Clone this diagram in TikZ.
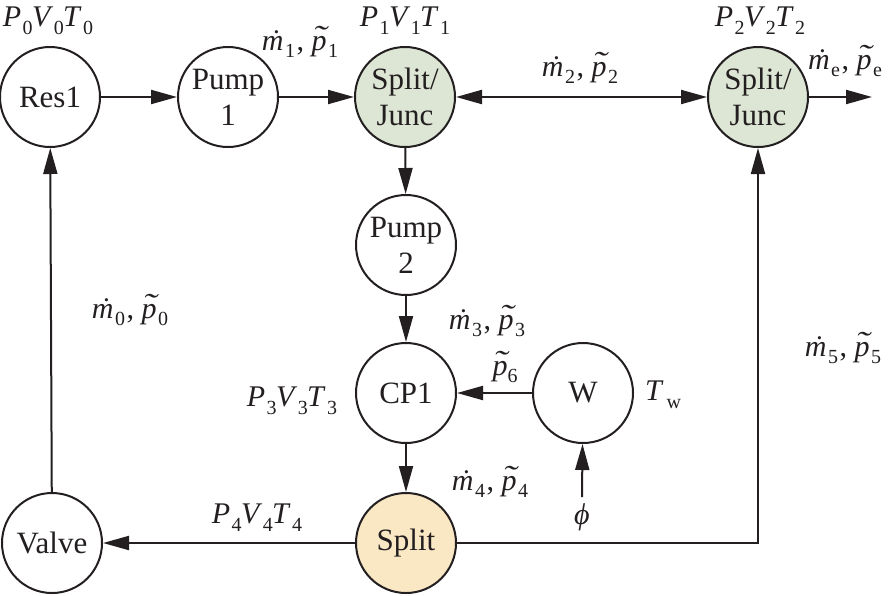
\documentclass[tikz,border=0pt]{standalone}
\usepackage{graphicx}
\usepackage{fontspec}
\setmainfont{Liberation Serif}
\usetikzlibrary{arrows.meta}
\definecolor{ln}{RGB}{35,31,32}
\definecolor{gfill}{RGB}{221,230,212}
\definecolor{ofill}{RGB}{250,231,196}
\newcommand\iv[1]{\textit{#1}}
\newcommand\subs[1]{\raisebox{-0.26em}{\fontsize{10}{10}\selectfont #1}}
\newcommand\mdt{\hbox{\ooalign{\textit{m}\cr\hidewidth\kern0.12em\textit{˙}\hidewidth\cr}}}
\newcommand\ptl{\hbox{\ooalign{\textit{p}\cr\hidewidth\kern0.1em\raisebox{0.12em}{\scalebox{1.4}[1]{\textit{˜}}}\hidewidth\cr}}}
\newcommand\mpl[2]{\mdt\kern0.05em\subs{#1}\kern0.05em,\kern0.25em\ptl\kern0.05em\subs{#2}}
\newcommand\pvt[1]{\iv{P}\kern0.05em\subs{#1}\kern-0.02em\iv{V}\kern0.02em\subs{#1}\kern-0.02em\iv{T}\kern0.05em\subs{#1}}
\begin{document}
\begin{tikzpicture}[x=0.5pt,y=-0.5pt,
  blk/.style={circle, draw=ln, line width=1pt, minimum size=50pt, inner sep=0pt,
    align=center, font=\fontsize{15.5}{18}\selectfont, fill=white, text=ln},
  conn/.style={draw=ln, line width=1pt, -{Triangle[length=13pt,width=7pt]}},
  bconn/.style={draw=ln, line width=1pt, {Triangle[length=13pt,width=7pt]}-{Triangle[length=13pt,width=7pt]}},
  lbl/.style={font=\fontsize{15}{18}\selectfont, inner sep=0pt, text=ln}]
\useasboundingbox (0,0) rectangle (892,595);
% blocks
\node[blk] (res) at (50,97) {Res1};
\node[blk] (p1) at (228,97) {Pump\\1};
\node[blk, fill=gfill] (sj1) at (405,97) {Split/\\Junc};
\node[blk, fill=gfill] (sj2) at (758,97) {Split/\\Junc};
\node[blk] (p2) at (406,245) {Pump\\2};
\node[blk] (cp) at (406,393) {CP1};
\node[blk] (w) at (583,393) {W};
\node[blk, fill=ofill] (sp) at (406,543) {Split};
\node[blk] (v) at (52,543) {Valve};
% labels
\node[lbl] (l0) at (48,21) {\pvt{0}};
\node[lbl] (l1) at (300,47) {\mpl{1}{1}};
\node[lbl] (l2) at (405,21) {\pvt{1}};
\node[lbl] (l3) at (580,73) {\mpl{2}{2}};
\node[lbl] (l4) at (760,21) {\pvt{2}};
\node[lbl] (l5) at (845,66) {\mpl{e}{e}};
\node[lbl] (l6) at (130,315) {\mpl{0}{0}};
\node[lbl] (l7) at (487,326) {\mpl{3}{3}};
\node[lbl] (l8) at (505,372) {\ptl\subs{6}};
\node[lbl] (l9) at (292,401) {\pvt{3}};
\node[lbl] (l10) at (663,395) {\iv{T}\kern0.1em\subs{w}};
\node[lbl] (l11) at (490,487) {\mpl{4}{4}};
\node[lbl] (phi) at (582,517) {\iv{ϕ}};
\node[lbl] (l12) at (257,518) {\pvt{4}};
\node[lbl] (l13) at (843,353) {\mpl{5}{5}};
% connectors
\coordinate (out) at (872,97);
\draw[conn] (res) -- (p1);
\draw[conn] (p1) -- (sj1);
\draw[bconn] (sj1) -- (sj2);
\draw[conn] (sj2) -- (out);
\draw[conn] (sj1) -- (p2);
\draw[conn] (p2) -- (cp);
\draw[conn] (w) -- (cp);
\draw[conn] ([yshift=3pt]phi.north) -- (w);
\draw[conn] (cp) -- (sp);
\draw[conn] (sp) -- (v);
\draw[conn] (v) -- (res);
\draw[conn] (sp.east) -| (sj2.south);
\end{tikzpicture}
\end{document}
